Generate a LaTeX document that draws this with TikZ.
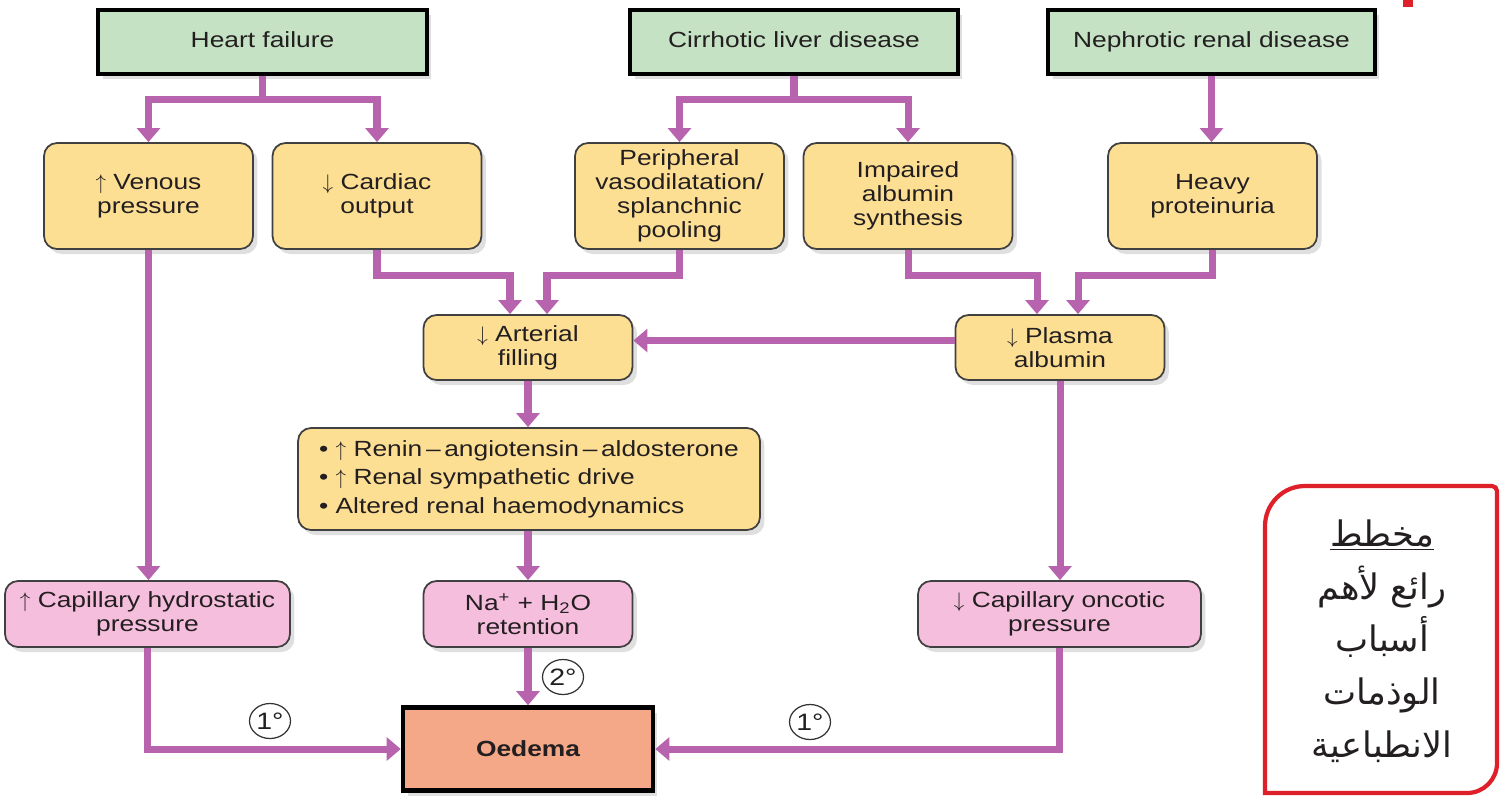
\documentclass[tikz,border=0pt]{standalone}
\usepackage{fontspec}
\setmainfont{Liberation Sans}[FakeStretch=1.2]
\newfontfamily\arabicfont[Script=Arabic]{DejaVu Sans}
\TeXXeTstate=1
\usetikzlibrary{calc}
\usetikzlibrary{arrows.meta}
\usetikzlibrary{shadows}
\usetikzlibrary{shapes.geometric}

\definecolor{verdecaixa}{RGB}{197,227,196}
\definecolor{amarelo}{RGB}{253,223,148}
\definecolor{rosa}{RGB}{246,190,221}
\definecolor{salmao}{RGB}{245,168,136}
\definecolor{roxo}{RGB}{183,99,174}
\definecolor{vermelho}{RGB}{222,32,42}
\definecolor{texto}{RGB}{35,31,32}

\tikzset{
  sombra/.style={drop shadow={shadow xshift=0.09cm, shadow yshift=-0.1cm, opacity=0.25}},
  causa/.style={draw=black, line width=2.6pt, fill=verdecaixa, minimum height=1.28cm,
    text height=1.6ex, text depth=0.45ex, sombra},
  passo/.style={draw=black!75, line width=1pt, rounded corners=0.26cm, fill=amarelo,
    align=center, minimum width=4.18cm, sombra},
  efeito/.style={passo, fill=rosa, minimum height=1.32cm},
  fluxo/.style={line width=4pt, draw=roxo, -{Triangle[width=13pt, length=8pt]}},
  tronco/.style={line width=4pt, draw=roxo},
  grau/.style={ellipse, draw=black!80, line width=0.7pt, fill=white, inner sep=0pt,
    minimum width=0.82cm, minimum height=0.7cm, font=\fontsize{13.5}{14}\selectfont},
  moldura/.style={draw=vermelho, line width=2.4pt}
}

\begin{document}
\begin{tikzpicture}[x=0.02cm, y=-0.02cm, text=texto,
    font=\fontsize{12.5}{13.6}\selectfont]

  \useasboundingbox (0,0) rectangle (1503,796);

  %--------------------------------------------
  % Causas (caixas verdes)
  %--------------------------------------------
  \foreach \nome/\x/\larg/\texto in {hf/262.5/6.58/{Heart failure},
      cld/794/6.56/{Cirrhotic liver disease}, nrd/1211.5/6.54/{Nephrotic renal disease}}
  {
    \node[causa, minimum width=\larg cm] (\nome) at (\x,42) {\texto};
  }

  %--------------------------------------------
  % Primeiro nivel de mecanismos
  %--------------------------------------------
  \foreach \nome/\x/\texto in {vp/148.5/{$\uparrow$ Venous\\pressure},
      co/377/{$\downarrow$ Cardiac\\output},
      pv/679.5/{Peripheral\\vasodilatation/\\splanchnic\\pooling},
      ias/908/{Impaired\\albumin\\synthesis},
      hp/1212.5/{Heavy\\proteinuria}}
  {
    \node[passo, minimum height=2.12cm] (\nome) at (\x,196) {\texto};
  }

  % Segundo nivel
  \node[passo, minimum height=1.3cm] (af) at (528,347.5) {$\downarrow$ Arterial\\filling};
  \node[passo, minimum height=1.3cm] (pa) at (1060,347.5) {$\downarrow$ Plasma\\albumin};
  \node[passo, minimum width=9.24cm, minimum height=2.04cm, align=left,
    font=\fontsize{12.5}{16.2}\selectfont] (raas) at (529,479)
    {• $\uparrow$ Renin\,–\,angiotensin\,–\,aldosterone\\
     • $\uparrow$ Renal sympathetic drive\\
     • Altered renal haemodynamics};

  %--------------------------------------------
  % Efeitos (caixas rosa) e edema
  %--------------------------------------------
  \node[efeito, minimum width=5.7cm] (chp) at (147.5,614) {$\uparrow$ Capillary hydrostatic\\pressure};
  \node[efeito] (nar) at (528,614) {Na\textsuperscript{+} + H\textsubscript{2}O\\retention};
  \node[efeito, minimum width=5.66cm] (cop) at (1059.5,614) {$\downarrow$ Capillary oncotic\\pressure};

  \node[draw=black, line width=2.6pt, fill=salmao, minimum width=5cm, minimum height=1.66cm,
    font=\fontsize{12.5}{14}\selectfont\bfseries, sombra] (oed) at (528,749) {Oedema};

  %--------------------------------------------
  % Setas
  %--------------------------------------------
  \coordinate (hfd) at ($(hf.south)+(0,23)$);
  \coordinate (cldd) at ($(cld.south)+(0,23)$);
  \draw[tronco] (hf.south) -- (hfd);
  \draw[fluxo] (hfd) -| (vp.north);
  \draw[fluxo] (hfd) -| (co.north);
  \draw[tronco] (cld.south) -- (cldd);
  \draw[fluxo] (cldd) -| (pv.north);
  \draw[fluxo] (cldd) -| (ias.north);
  \draw[fluxo] (nrd.south) -- (nrd.south |- hp.north);

  \draw[fluxo] (co.south) -- ++(0,26) -| ($(af.north)+(-18,0)$);
  \draw[fluxo] (pv.south) -- ++(0,26) -| ($(af.north)+(19,0)$);
  \draw[fluxo] (ias.south) -- ++(0,26) -| ($(pa.north)+(-23,0)$);
  \draw[fluxo] (hp.south) -- ++(0,26) -| ($(pa.north)+(18,0)$);

  \draw[fluxo] ($(pa.west)+(0,-7)$) -- ($(af.east)+(0,-7)$);
  \draw[fluxo] (af.south) -- (af.south |- raas.north);
  \draw[fluxo] (raas.south -| nar.north) -- (nar.north);
  \draw[fluxo] (vp.south) -- (vp.south |- chp.north);
  \draw[fluxo] (pa.south) -- (pa.south |- cop.north);

  \draw[fluxo] (nar.south) -- (oed.north);
  \draw[fluxo] (chp.south) |- (oed.west);
  \draw[fluxo] (cop.south) |- (oed.east);

  % Graus (primario / secundario)
  \node[grau] (g1) at (270,721) {1°};
  \node[grau] (g2) at (563,677) {2°};
  \node[grau] (g3) at (810,722) {1°};

  %--------------------------------------------
  % Nota em arabe
  %--------------------------------------------
  \node[font=\arabicfont\fontsize{20}{30}\selectfont, align=center] (nota) at (1382,641)
    {\underline{\beginR مخطط\endR}\\
     \beginR رائع لأهم\endR\\
     \beginR أسباب\endR\\
     \beginR الوذمات\endR\\
     \beginR الانطباعية\endR};
  \draw[moldura] (1265,793) [rounded corners=0.8cm] -- (1265,486)
    [rounded corners=0.1cm] -- (1497,486) [rounded corners=0.6cm] -- (1497,793)
    [sharp corners] -- cycle;

  \fill[vermelho] (1403,0) rectangle (1413,7);

\end{tikzpicture}
\end{document}
